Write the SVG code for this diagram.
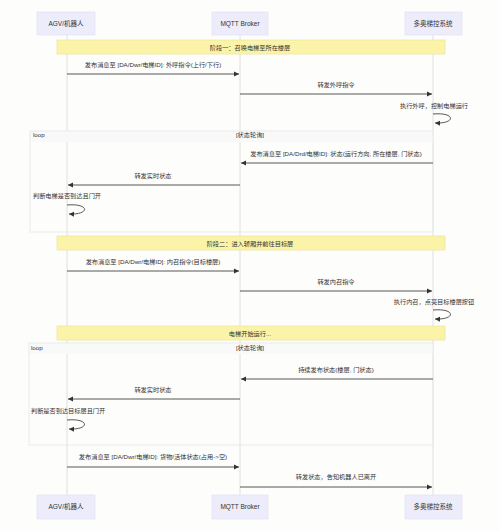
<svg xmlns="http://www.w3.org/2000/svg" width="500" height="531" viewBox="0 0 500 531">
<defs>
<marker id="ah" markerWidth="6" markerHeight="6" refX="5" refY="3" orient="auto" markerUnits="userSpaceOnUse">
<path d="M0,0.5 L5,3 L0,5.5 z" fill="#333"/>
</marker>
<style>
text{font-family:"Liberation Sans","Noto Sans CJK SC",sans-serif;fill:#333;font-size:6.2px}
.actor rect{fill:#ececfb;stroke:#e4e4f4;stroke-width:0.8}
.actor text{text-anchor:middle;font-size:6.5px}
.life{stroke:#dcdcdc;stroke-width:0.9}
.msg{stroke:#444;stroke-width:0.9;fill:none}
.lbl{text-anchor:middle}
.note rect{fill:#fbf4a8;stroke:#ede6a0;stroke-width:0.8}
.note text{text-anchor:middle}
.loop rect{fill:none;stroke:#e8e8e8;stroke-width:0.9}
.loop .hdr{fill:#f9f9f9;stroke:none}
</style>
</defs>
<rect width="500" height="531" fill="#fdfdfb"/>

<g id="lifelines">
<line class="life" x1="67" y1="35" x2="67" y2="495"/>
<line class="life" x1="240" y1="35" x2="240" y2="495"/>
<line class="life" x1="433" y1="35" x2="433" y2="495"/>
</g>

<g id="actor-agv" class="actor">
<rect x="37" y="12" width="58" height="23"/>
<text x="66" y="26">AGV/机器人</text>
<rect x="37" y="495" width="58" height="24"/>
<text x="66" y="509">AGV/机器人</text>
</g>
<g id="actor-mqtt" class="actor">
<rect x="212" y="12" width="56" height="23"/>
<text x="240" y="26">MQTT Broker</text>
<rect x="212" y="495" width="56" height="24"/>
<text x="240" y="509">MQTT Broker</text>
</g>
<g id="actor-elev" class="actor">
<rect x="405" y="12" width="57" height="23"/>
<text x="433" y="26">多奥梯控系统</text>
<rect x="405" y="495" width="57" height="24"/>
<text x="433" y="509">多奥梯控系统</text>
</g>

<g id="loop1" class="loop">
<rect class="hdr" x="30" y="131" width="403" height="11"/>
<rect x="30" y="131" width="403" height="101"/>
<text x="33" y="137">loop</text>
<text x="250" y="137" text-anchor="middle">[状态轮询]</text>
</g>
<g id="loop2" class="loop">
<rect class="hdr" x="29" y="343" width="404" height="11"/>
<rect x="29" y="343" width="404" height="102"/>
<text x="31" y="350">loop</text>
<text x="250" y="350" text-anchor="middle">[状态轮询]</text>
</g>

<g id="note-phase1" class="note">
<rect x="57" y="40" width="388" height="14"/>
<text x="250" y="49.5">阶段一：召唤电梯至所在楼层</text>
</g>
<g id="note-phase2" class="note">
<rect x="57" y="236" width="388" height="14"/>
<text x="250" y="245.5">阶段二：进入轿厢并前往目标层</text>
</g>
<g id="note-run" class="note">
<rect x="57" y="326" width="388" height="14"/>
<text x="250" y="335.5">电梯开始运行...</text>
</g>

<g id="connectors">
<path class="msg" d="M67,74 H239" marker-end="url(#ah)"/>
<text class="lbl" x="153" y="67">发布消息至 [DA/Dwr/电梯ID]: 外呼指令(上行/下行)</text>

<path class="msg" d="M240,94 H432" marker-end="url(#ah)"/>
<text class="lbl" x="336" y="87">转发外呼指令</text>

<path class="msg" d="M433,114 C456,112 456,124 435,123" marker-end="url(#ah)"/>
<text class="lbl" x="434" y="108">执行外呼，控制电梯运行</text>

<path class="msg" d="M433,163 H241" marker-end="url(#ah)"/>
<text class="lbl" x="336" y="156">发布消息至 [DA/Drd/电梯ID]: 状态(运行方向, 所在楼层, 门状态)</text>

<path class="msg" d="M240,185 H68" marker-end="url(#ah)"/>
<text class="lbl" x="153" y="178">转发实时状态</text>

<path class="msg" d="M67,205 C90,203 90,215 69,214" marker-end="url(#ah)"/>
<text x="33" y="198">判断电梯是否到达且门开</text>

<path class="msg" d="M67,271 H239" marker-end="url(#ah)"/>
<text class="lbl" x="153" y="264">发布消息至 [DA/Dwr/电梯ID]: 内召指令(目标楼层)</text>

<path class="msg" d="M240,291 H432" marker-end="url(#ah)"/>
<text class="lbl" x="336" y="284">转发内召指令</text>

<path class="msg" d="M433,310 C456,308 456,320 435,319" marker-end="url(#ah)"/>
<text class="lbl" x="434" y="304">执行内召，点亮目标楼层按钮</text>

<path class="msg" d="M433,379 H241" marker-end="url(#ah)"/>
<text class="lbl" x="336" y="372">持续发布状态(楼层, 门状态)</text>

<path class="msg" d="M240,399 H68" marker-end="url(#ah)"/>
<text class="lbl" x="153" y="392">转发实时状态</text>

<path class="msg" d="M67,420 C90,418 90,430 69,429" marker-end="url(#ah)"/>
<text x="31" y="413">判断是否到达目标层且门开</text>

<path class="msg" d="M67,467 H239" marker-end="url(#ah)"/>
<text class="lbl" x="153" y="459">发布消息至 [DA/Dwr/电梯ID]: 货物/活体状态(占用-&gt;空)</text>

<path class="msg" d="M240,487 H432" marker-end="url(#ah)"/>
<text class="lbl" x="336" y="479">转发状态，告知机器人已离开</text>
</g>
</svg>
